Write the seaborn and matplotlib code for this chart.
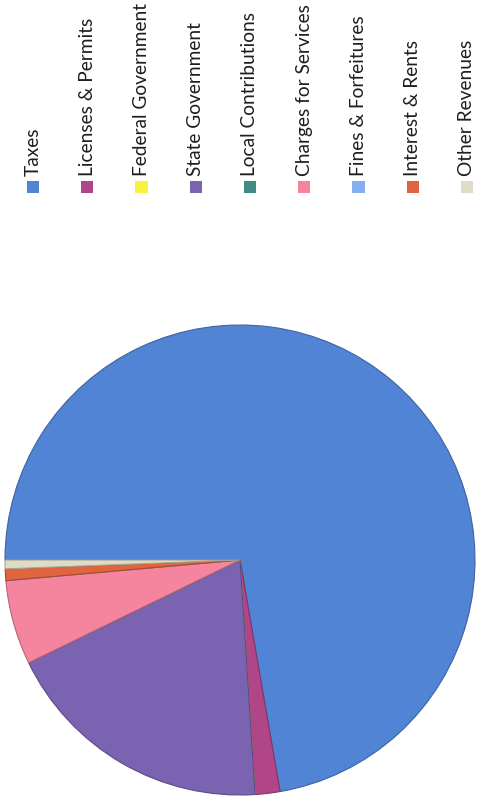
import matplotlib
matplotlib.use("Agg")
import matplotlib.pyplot as plt
import matplotlib.colors as mcolors
import numpy as np
import pandas as pd
import seaborn as sns

# revenue sources (legend order) and their share of the total, in percent
categories = ["Taxes", "Licenses & Permits", "Federal Government", "State Government",
              "Local Contributions", "Charges for Services", "Fines & Forfeitures",
              "Interest & Rents", "Other Revenues"]
shares = [72.2, 1.7, 0.0, 18.8, 0.0, 5.8, 0.0, 0.8, 0.6]

palette = ["#5184d5", "#b04688", "#f7f23c", "#7a63b0", "#3f8a82",
           "#f5849e", "#86aef2", "#e0643e", "#dedcc6"]

sns.set_theme(style="white")
plt.rcParams["font.family"] = ["Lato", "DejaVu Sans"]

df = pd.DataFrame({"source": categories, "share": shares, "colour": palette})

fig = plt.figure(figsize=(4.78, 8.0), dpi=100)

# pie (the scanned page is turned on its side, so it starts at 9 o'clock)
ax = fig.add_axes([5 / 478, 5 / 800, 470 / 478, 470 / 800])
wedges, _ = ax.pie(df["share"], colors=df["colour"], startangle=180,
                   counterclock=False, radius=1.0,
                   wedgeprops=dict(linewidth=0.8))
for w, c in zip(wedges, df["colour"]):
    r, g, b = mcolors.to_rgb(c)
    w.set_edgecolor((r * 0.75, g * 0.75, b * 0.75))
ax.set_xlim(-1.0, 1.0)
ax.set_ylim(-1.0, 1.0)
ax.set_aspect("equal")
ax.axis("off")

# legend, rotated with the page
lg = fig.add_axes([0, 0, 1, 1])
lg.set_xlim(0, 478)
lg.set_ylim(800, 0)
lg.axis("off")
df["lx"] = np.linspace(33, 467, len(df))
df["ly"] = 187
sns.scatterplot(data=df, x="lx", y="ly", hue="source", palette=list(df["colour"]),
                marker="s", s=80, edgecolor="none", legend=False, ax=lg)
for _, row in df.iterrows():
    lg.text(row["lx"], 176, row["source"], rotation=90, ha="center", va="bottom",
            fontsize=13.8, color="#1e1e1e")

fig.savefig("out.png", dpi=100, facecolor="white")
